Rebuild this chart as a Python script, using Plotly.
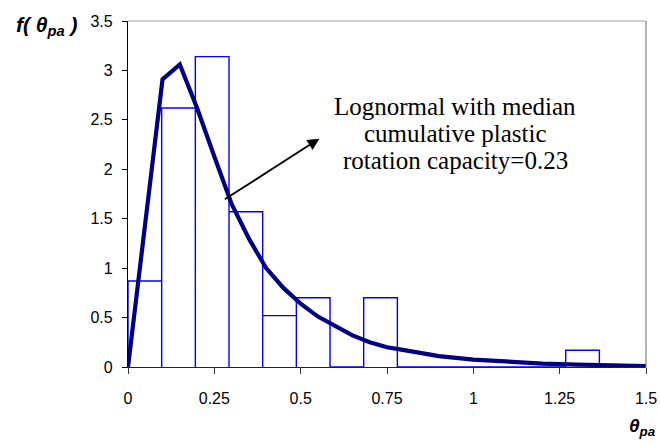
import plotly.graph_objects as go

# ---- data ----
bin_edges = [0, 0.0975, 0.195, 0.2925, 0.39, 0.4875, 0.585, 0.6825, 0.78,
             0.8775, 0.975, 1.0725, 1.17, 1.2675, 1.365, 1.4625, 1.56]
bin_density = [0.87, 2.62, 3.14, 1.57, 0.52, 0.70, 0.0, 0.70, 0.0,
               0.0, 0.0, 0.0, 0.0, 0.17, 0.0, 0.0]

curve_x = [0, 0.1, 0.15, 0.2, 0.25, 0.3, 0.35, 0.4, 0.45, 0.5, 0.55, 0.6,
           0.65, 0.7, 0.75, 0.8, 0.9, 1.0, 1.1, 1.2, 1.3, 1.4, 1.5]
curve_y = [0, 2.91, 3.06, 2.62, 2.13, 1.65, 1.30, 1.00, 0.80, 0.64, 0.51, 0.41,
           0.32, 0.25, 0.20, 0.17, 0.11, 0.075, 0.05, 0.035, 0.025, 0.015, 0.01]

x_ticks = [0, 0.25, 0.5, 0.75, 1, 1.25, 1.5]
x_ticklabels = ["0", "0.25", "0.5", "0.75", "1", "1.25", "1.5"]
y_ticks = [0, 0.5, 1, 1.5, 2, 2.5, 3, 3.5]
y_ticklabels = ["0", "0.5", "1", "1.5", "2", "2.5", "3", "3.5"]

note_lines = ["Lognormal with median", "cumulative plastic", "rotation capacity=0.23"]

# ---- histogram outline built from bins ----
hx, hy = [], []
for i, h in enumerate(bin_density):
    x0, x1 = bin_edges[i], bin_edges[i + 1]
    hx += [x0, x0, x1, x1]
    hy += [0, h, h, 0]

fig = go.Figure()
fig.add_trace(go.Scatter(x=hx, y=hy, mode="lines",
                         line=dict(color="#0000FF", width=1.4),
                         hoverinfo="skip", showlegend=False))
fig.add_trace(go.Scatter(x=curve_x, y=curve_y, mode="lines",
                         line=dict(color="#000080", width=4.2),
                         showlegend=False))

axis_font = dict(family="Liberation Sans, Arial, sans-serif", size=16, color="black")

fig.update_layout(
    width=660, height=443,
    margin=dict(l=128, r=14, t=21, b=76, autoexpand=False),
    paper_bgcolor="white", plot_bgcolor="white",
    showlegend=False,
    xaxis=dict(range=[0, 1.5], tickvals=x_ticks, ticktext=x_ticklabels,
               showgrid=False, zeroline=False, showline=True, linecolor="#222",
               linewidth=1.2, ticks="outside", ticklen=6, tickcolor="#333",
               tickwidth=1.2, tickfont=axis_font, ticklabelstandoff=11,
               layer="below traces", automargin=False),
    yaxis=dict(range=[0, 3.5], tickvals=y_ticks, ticktext=y_ticklabels,
               showgrid=False, zeroline=False, showline=True, linecolor="black",
               linewidth=1.2, ticks="outside", ticklen=5, tickcolor="black",
               tickwidth=1.2, tickfont=axis_font, ticklabelstandoff=6,
               layer="below traces", automargin=False),
    xaxis2=dict(overlaying="x", anchor="y", side="bottom", range=[0, 1.5],
                tickvals=x_ticks, showticklabels=False, showgrid=False,
                zeroline=False, showline=False, ticks="inside", ticklen=6,
                tickcolor="#333", tickwidth=1.2, automargin=False),
    yaxis2=dict(overlaying="y", anchor="x", side="left", range=[0, 3.5],
                tickvals=y_ticks, showticklabels=False, showgrid=False,
                zeroline=False, showline=False, ticks="inside", ticklen=5,
                tickcolor="black", tickwidth=1.2, automargin=False),
)

# top and right frame lines
fig.add_shape(type="line", xref="paper", yref="paper", x0=0, x1=1, y0=1, y1=1,
              line=dict(color="#a0a0a0", width=1.2))
fig.add_shape(type="line", xref="paper", yref="paper", x0=1, x1=1, y0=0, y1=1,
              line=dict(color="#808080", width=1.2))

# arrow
fig.add_annotation(x=0.554, y=2.31, ax=0.276, ay=1.686, xref="x", yref="y",
                   axref="x", ayref="y", text="", showarrow=True,
                   arrowhead=2, arrowsize=1.3, arrowwidth=1.8, arrowcolor="black")

# note text
note_y = [2.637, 2.364, 2.091]
for line, yy in zip(note_lines, note_y):
    fig.add_annotation(x=0.9475, y=yy, xref="x", yref="y", text=line,
                       showarrow=False, xanchor="center", yanchor="middle",
                       font=dict(family="Liberation Serif, Times New Roman, serif",
                                 size=25, color="black"))

# axis titles
fig.add_annotation(x=-0.093, y=0.985, xref="paper", yref="paper",
                   text="<b><i>f( θ<sub>pa</sub> )</i></b>", showarrow=False,
                   xanchor="right", yanchor="middle",
                   font=dict(family="Liberation Sans, Arial, sans-serif", size=21, color="black"))
fig.add_annotation(x=1.022, y=-0.172, xref="paper", yref="paper",
                   text="<b><i>θ<sub>pa</sub></i></b>", showarrow=False,
                   xanchor="right", yanchor="middle",
                   font=dict(family="Liberation Sans, Arial, sans-serif", size=19, color="black"))

fig.write_html("out.html")
